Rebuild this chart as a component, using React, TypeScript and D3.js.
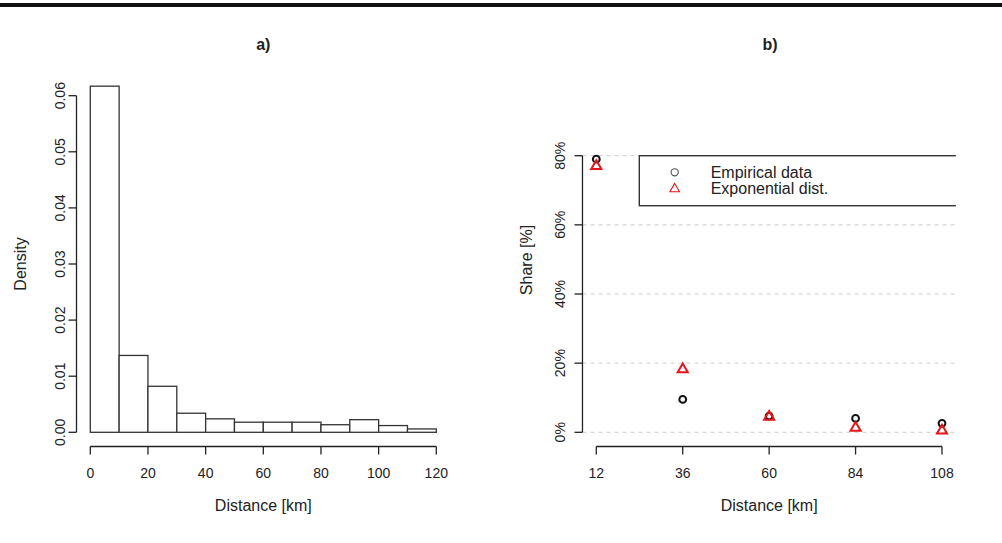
import React, { useEffect, useRef } from 'react';
import * as d3 from 'd3';

// panel a: histogram of distances (density per 10 km bin)
const binStarts = [0, 10, 20, 30, 40, 50, 60, 70, 80, 90, 100, 110];
const densities = [0.0617, 0.0137, 0.0082, 0.0034, 0.0024, 0.0018, 0.0018, 0.0018, 0.00135, 0.00225, 0.0012, 0.0006];
const histXTicks = [0, 20, 40, 60, 80, 100, 120];
const histYTicks = [0, 0.01, 0.02, 0.03, 0.04, 0.05, 0.06];

// panel b: share per distance class
const distances = [12, 36, 60, 84, 108];
const empirical = [79.0, 9.5, 4.7, 4.0, 2.6];
const exponential = [77.0, 18.2, 4.5, 1.3, 0.5];
const shareTicks = [0, 20, 40, 60, 80];
const legendLabels = ['Empirical data', 'Exponential dist.'];

const W = 1002;
const H = 543;
const FONT = 'Liberation Sans, Arial, sans-serif';
const INK = '#222';
const RED = '#e8141c';

const App = () => {
  const svgRef = useRef<SVGSVGElement>(null);

  useEffect(() => {
    const svg = d3.select(svgRef.current);
    svg.selectAll('*').remove();

    svg.append('rect').attr('width', W).attr('height', H).attr('fill', '#fff');
    // heavy rule at the top
    svg.append('rect').attr('x', 0).attr('y', 3).attr('width', W).attr('height', 4).attr('fill', '#111');

    // ---------- panel a ----------
    const xa = d3.scaleLinear().domain([0, 120]).range([90.3, 436.3]);
    const ya = d3.scaleLinear().domain([0, 0.06]).range([432.3, 95.7]);
    const ga = svg.append('g');

    ga.selectAll('rect.bin')
      .data(binStarts.map((s, i) => ({ s, d: densities[i] })))
      .enter().append('rect')
      .attr('class', 'bin')
      .attr('x', d => xa(d.s))
      .attr('y', d => ya(d.d))
      .attr('width', d => xa(d.s + 10) - xa(d.s))
      .attr('height', d => ya(0) - ya(d.d))
      .attr('fill', '#fff')
      .attr('stroke', '#333')
      .attr('stroke-width', 1.3);

    // y axis
    const yAxA = ga.append('g').attr('transform', 'translate(76.5,0)');
    yAxA.append('line').attr('y1', ya(0)).attr('y2', ya(0.06)).attr('stroke', INK).attr('stroke-width', 1.3);
    histYTicks.forEach(t => {
      yAxA.append('line').attr('x1', 0).attr('x2', -8).attr('y1', ya(t)).attr('y2', ya(t))
        .attr('stroke', INK).attr('stroke-width', 1.3);
      yAxA.append('text')
        .attr('transform', `translate(-16,${ya(t)}) rotate(-90)`)
        .attr('text-anchor', 'middle').attr('dy', '0.35em')
        .attr('font-family', FONT).attr('font-size', 14).attr('fill', INK)
        .text(d3.format('.2f')(t));
    });

    // x axis
    const xAxA = ga.append('g').attr('transform', 'translate(0,446.5)');
    xAxA.append('line').attr('x1', xa(0)).attr('x2', xa(120)).attr('stroke', INK).attr('stroke-width', 1.3);
    histXTicks.forEach(t => {
      xAxA.append('line').attr('x1', xa(t)).attr('x2', xa(t)).attr('y1', 0).attr('y2', 8)
        .attr('stroke', INK).attr('stroke-width', 1.3);
      xAxA.append('text').attr('x', xa(t)).attr('y', 31)
        .attr('text-anchor', 'middle')
        .attr('font-family', FONT).attr('font-size', 14).attr('fill', INK)
        .text(t);
    });

    ga.append('text').attr('x', xa(60)).attr('y', 511).attr('text-anchor', 'middle')
      .attr('font-family', FONT).attr('font-size', 16).attr('fill', INK).text('Distance [km]');
    ga.append('text').attr('transform', 'translate(20.5,264) rotate(-90)').attr('text-anchor', 'middle')
      .attr('dy', '0.35em')
      .attr('font-family', FONT).attr('font-size', 16).attr('fill', INK).text('Density');
    ga.append('text').attr('x', xa(60)).attr('y', 50).attr('text-anchor', 'middle')
      .attr('font-family', FONT).attr('font-size', 16).attr('font-weight', 'bold').attr('fill', INK).text('a)');

    // ---------- panel b ----------
    const xb = d3.scaleLinear().domain([12, 108]).range([596.3, 942]);
    const yb = d3.scaleLinear().domain([0, 80]).range([432.3, 155.7]);
    const left = xb(8.16);
    const right = xb(111.84);
    const gb = svg.append('g');

    gb.append('clipPath').attr('id', 'plotb')
      .append('rect').attr('x', left).attr('y', 0).attr('width', right - left).attr('height', H);

    // dashed grid
    gb.selectAll('line.grid').data(shareTicks).enter().append('line')
      .attr('class', 'grid')
      .attr('x1', left).attr('x2', right)
      .attr('y1', d => yb(d)).attr('y2', d => yb(d))
      .attr('stroke', '#ccc').attr('stroke-width', 1).attr('stroke-dasharray', '4,4');

    // legend box (runs off the right edge of the plot region)
    const lg = gb.append('g').attr('clip-path', 'url(#plotb)');
    lg.append('rect').attr('x', 639.3).attr('y', yb(80)).attr('width', 400).attr('height', 50)
      .attr('fill', '#fff').attr('stroke', '#333').attr('stroke-width', 1.4);
    lg.append('circle').attr('cx', 674.7).attr('cy', 172.3).attr('r', 3.6)
      .attr('fill', 'none').attr('stroke', '#555').attr('stroke-width', 1.1);
    lg.append('path').attr('transform', 'translate(674.7,189)')
      .attr('d', d3.symbol(d3.symbolTriangle, 40)())
      .attr('fill', 'none').attr('stroke', RED).attr('stroke-width', 1.1);
    legendLabels.forEach((l, i) => {
      lg.append('text').attr('x', 710.7).attr('y', 172.3 + i * 16.5).attr('dy', '0.35em')
        .attr('font-family', FONT).attr('font-size', 16).attr('fill', INK).text(l);
    });

    // y axis
    const yAxB = gb.append('g').attr('transform', `translate(${left},0)`);
    yAxB.append('line').attr('y1', yb(0)).attr('y2', yb(80)).attr('stroke', INK).attr('stroke-width', 1.3);
    shareTicks.forEach(t => {
      yAxB.append('line').attr('x1', 0).attr('x2', -8).attr('y1', yb(t)).attr('y2', yb(t))
        .attr('stroke', INK).attr('stroke-width', 1.3);
      yAxB.append('text')
        .attr('transform', `translate(-22,${yb(t)}) rotate(-90)`)
        .attr('text-anchor', 'middle').attr('dy', '0.35em')
        .attr('font-family', FONT).attr('font-size', 14).attr('fill', INK)
        .text(`${t}%`);
    });

    // x axis
    const xAxB = gb.append('g').attr('transform', 'translate(0,446.5)');
    xAxB.append('line').attr('x1', xb(12)).attr('x2', xb(108)).attr('stroke', INK).attr('stroke-width', 1.3);
    distances.forEach(t => {
      xAxB.append('line').attr('x1', xb(t)).attr('x2', xb(t)).attr('y1', 0).attr('y2', 8)
        .attr('stroke', INK).attr('stroke-width', 1.3);
      xAxB.append('text').attr('x', xb(t)).attr('y', 31)
        .attr('text-anchor', 'middle')
        .attr('font-family', FONT).attr('font-size', 14).attr('fill', INK)
        .text(t);
    });

    // points
    gb.selectAll('circle.emp').data(distances).enter().append('circle')
      .attr('class', 'emp')
      .attr('cx', d => xb(d)).attr('cy', (d, i) => yb(empirical[i])).attr('r', 3.4)
      .attr('fill', 'none').attr('stroke', '#111').attr('stroke-width', 2);
    gb.selectAll('path.exp').data(distances).enter().append('path')
      .attr('class', 'exp')
      .attr('transform', (d, i) => `translate(${xb(d)},${yb(exponential[i])})`)
      .attr('d', d3.symbol(d3.symbolTriangle, 44)())
      .attr('fill', 'none').attr('stroke', RED).attr('stroke-width', 2);

    gb.append('text').attr('x', (left + right) / 2).attr('y', 511).attr('text-anchor', 'middle')
      .attr('font-family', FONT).attr('font-size', 16).attr('fill', INK).text('Distance [km]');
    gb.append('text').attr('transform', 'translate(526,260) rotate(-90)').attr('text-anchor', 'middle')
      .attr('dy', '0.35em')
      .attr('font-family', FONT).attr('font-size', 16).attr('fill', INK).text('Share [%]');
    gb.append('text').attr('x', 770).attr('y', 50).attr('text-anchor', 'middle')
      .attr('font-family', FONT).attr('font-size', 16).attr('font-weight', 'bold').attr('fill', INK).text('b)');
  }, []);

  return (
    <svg ref={svgRef} width={W} height={H} style={{ position: 'absolute', left: 0, top: 0 }}></svg>
  );
};

export default App;
